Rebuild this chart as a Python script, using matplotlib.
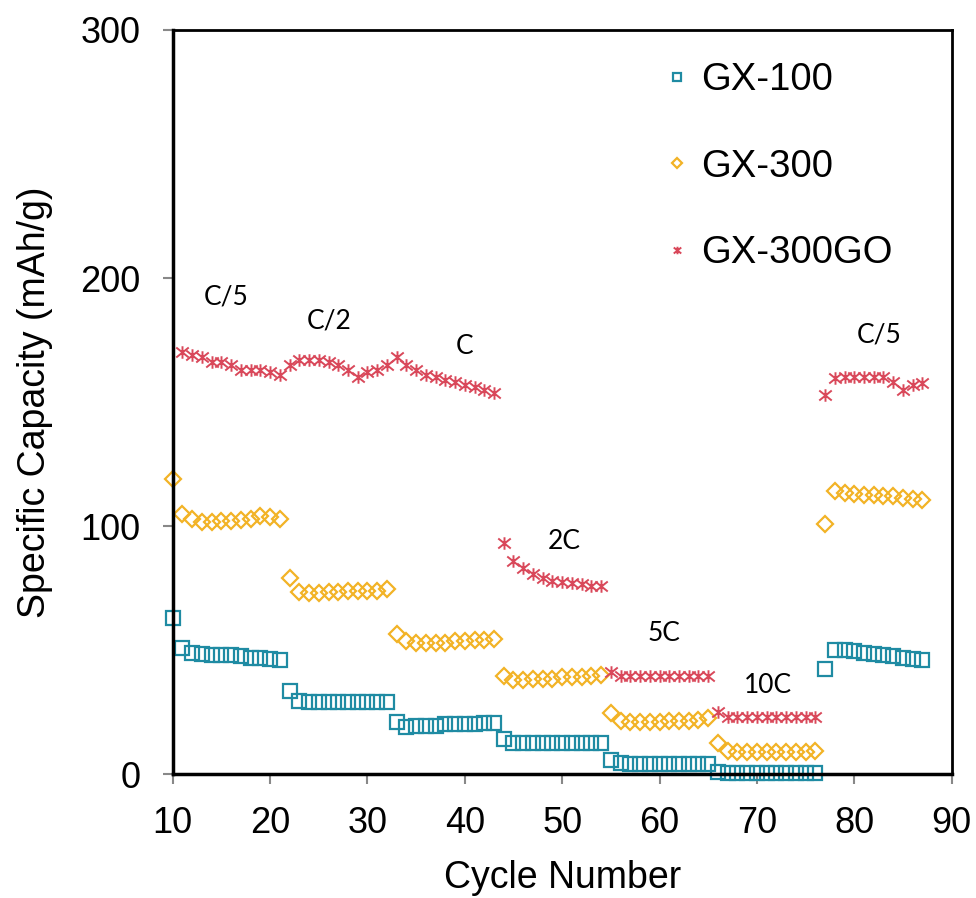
import numpy as np
import matplotlib
matplotlib.use("Agg")
import matplotlib.pyplot as plt
from matplotlib.path import Path

# rate capability data
cycles_100 = list(range(10, 88))
gx100 = [63, 51, 49, 48.5, 48, 48, 48, 47.5, 47, 47, 46.5, 46,
         33.5, 29.5, 29, 29, 29, 29, 29, 29, 29, 29, 29,
         21, 19, 19.5, 19.5, 19.5, 20, 20, 20, 20, 20.5, 20.5,
         14, 12.5, 12.5, 12.5, 12.5, 12.5, 12.5, 12.5, 12.5, 12.5, 12.5,
         5.5, 4.5, 4, 4, 4, 4, 4, 4, 4, 4, 4,
         1, 0.5, 0.5, 0.5, 0.5, 0.5, 0.5, 0.5, 0.5, 0.5, 0.5,
         42.5, 50, 50, 49.5, 49, 48.5, 48, 47.5, 47, 46.5, 46]

cycles_300 = list(range(10, 88))
gx300 = [119, 105, 103, 101.5, 101.5, 102, 102, 102.5, 103, 104, 103.5, 103,
         79, 73.5, 73, 73, 73.5, 73.5, 74, 74, 74, 74, 74.5,
         56.5, 53.5, 53, 53, 53, 53, 53.5, 53.5, 54, 54, 54.5,
         39.5, 38, 38, 38.5, 38.5, 38.5, 39, 39, 39, 39.5, 40,
         24.5, 21.5, 21, 21, 21, 21, 21.5, 21.5, 21.5, 22, 22.5,
         12.5, 9.5, 9, 9, 9, 9, 9, 9, 9, 9, 9.3,
         101, 114, 113.5, 113, 112.5, 112.5, 112, 112, 111.5, 111, 110.5]

cycles_go = list(range(11, 88))
gx300go = [170, 169, 168, 166, 166, 165, 163, 163, 163, 162, 161,
           165, 167, 167, 167, 166, 165, 163, 160, 162, 163, 165,
           168, 165, 163, 161, 160, 159, 158, 157, 156, 155, 153.5,
           93, 86, 83, 80.5, 79, 78, 77.5, 77, 76.5, 76, 76,
           41, 39.5, 39.5, 39.5, 39.5, 39.5, 39.5, 39.5, 39.5, 39.5, 39.5,
           25, 23, 23, 23, 23, 23, 23, 23, 23, 23, 23,
           153, 159.5, 160, 160, 160, 160, 160, 158, 155, 157, 157.5]

rate_labels = ["C/5", "C/2", "C", "2C", "5C", "10C", "C/5"]
rate_x = [15.5, 26.1, 40.0, 50.2, 60.5, 71.1, 82.6]
rate_y = [192.5, 182.7, 172.3, 93.7, 56.8, 35.9, 177]

# excel-style asterisk marker: an x with a vertical bar
star = Path([(-1, -0.8), (1, 0.8), (-1, 0.8), (1, -0.8), (0, -1), (0, 1)],
            [Path.MOVETO, Path.LINETO, Path.MOVETO, Path.LINETO, Path.MOVETO, Path.LINETO])

plt.rcParams['font.family'] = ['Liberation Sans', 'DejaVu Sans']

fig = plt.figure(figsize=(9.76, 8.98), dpi=100)
ax = fig.add_axes([0.177, 0.138, 0.798, 0.8286])

teal = "#1f8ba3"
orange = "#f2b326"
red = "#d9485a"

ax.plot(cycles_100, gx100, linestyle='none', marker='s', markersize=9.5, clip_on=False,
        markerfacecolor='none', markeredgecolor=teal, markeredgewidth=1.6, label='GX-100')
ax.plot(cycles_300, gx300, linestyle='none', marker='D', markersize=8.5, clip_on=False,
        markerfacecolor='none', markeredgecolor=orange, markeredgewidth=1.6, label='GX-300')
ax.plot(cycles_go, gx300go, linestyle='none', marker=star, markersize=9, clip_on=False,
        markerfacecolor='none', markeredgecolor=red, markeredgewidth=1.4, label='GX-300GO')

for lab, x, y in zip(rate_labels, rate_x, rate_y):
    ax.text(x, y, lab, ha='center', va='center', fontsize=19, family=['Lato', 'DejaVu Sans'])

ax.set_xlim(10, 90)
ax.set_ylim(0, 300)
ax.set_xticks(range(10, 91, 10))
ax.set_yticks([0, 100, 200, 300])
ax.tick_params(axis='both', labelsize=26, length=7, width=1.5, color='#888888', pad=16)

for s in ['left', 'bottom']:
    ax.spines[s].set_linewidth(2.5)
for s in ['top', 'right']:
    ax.spines[s].set_linewidth(2)

ax.set_xlabel('Cycle Number', fontsize=27, labelpad=14)
ax.set_ylabel('Specific Capacity (mAh/g)', fontsize=27, labelpad=20)

ax.legend(loc='upper left', bbox_to_anchor=(0.588, 1.003), frameon=False, fontsize=27.5,
          markerscale=0.6, labelspacing=1.32, handlelength=0.6, handletextpad=0.35)

fig.savefig('out.png', dpi=100)
